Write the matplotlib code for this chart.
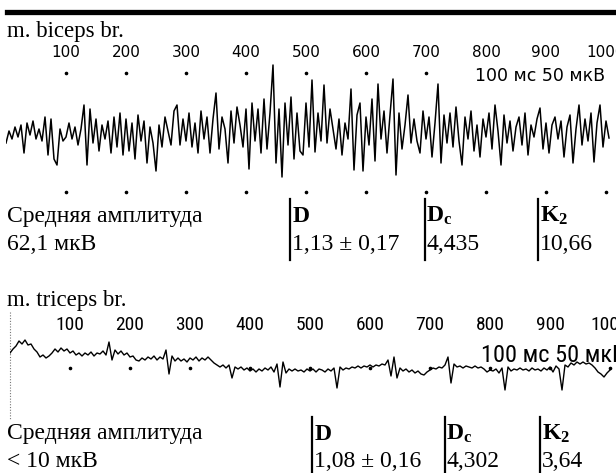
import numpy as np
import matplotlib
matplotlib.use('Agg')
import matplotlib.pyplot as plt
from matplotlib.lines import Line2D
from matplotlib import font_manager as fm

# ---------------- data ----------------
step = 5  # time units (ms-like) between samples
biceps = [-10, 2, -6, 6, -4, 8, -20, 10, -2, 12, -6, 4, -8, 16, -22, 14, -26, -32, 4, -8,
          -4, 10, -6, 6, -12, 4, 28, -32, 24, -10, 14, -18, 8, -6, 12, -20, 16, -14, 20, -22,
          14, -18, 10, -26, 18, -8, 12, -30, 6, -10, -38, 8, -14, 16, 2, -12, 22, 28, -12, 14,
          -8, 20, -14, 10, -20, 22, -6, 16, -20, 14, 40, -16, 16, 4, -30, 22, -10, 26, 8, -14,
          24, -36, 30, -8, 24, -20, 34, -16, 20, 68, -30, 24, -44, 30, -12, 36, -26, 20, -18, -22,
          30, -14, 53, -19, 20, -8, 48, -10, 24, 4, -16, 14, -22, 10, -6, 44, -37, 18, 30, -38,
          16, -12, 34, -28, 49, -6, 22, -20, 18, 54, -42, 20, -16, 8, 38, -10, 14, -8, -20, 22,
          -6, 16, -24, 10, 49, -30, 18, -10, 20, -14, 26, -8, -32, 16, -6, 22, -18, 8, -24, 14,
          -4, 20, -16, 28, 2, -32, 18, -10, 12, -18, 6, 16, -12, 20, -22, 8, -4, 14, 25, -16,
          10, -20, 8, 16, -6, 12, -24, 6, 18, -30, 4, 28, -12, 14, -8, 20, -29, 10, 28, -14,
          12, -5]
triceps = [17, 21, 24, 29, 26, 30, 25, 26, 21, 18, 13, 15, 12, 14, 17, 21, 18, 22, 19, 21,
           17, 19, 15, 17, 14, 17, 15, 18, 14, 17, 16, 19, 15, 28, 10, 20, 16, 19, 15, 17,
           13, 14, 10, 9, 12, 10, 13, 11, 14, 10, 13, 11, 20, -4, 14, 9, 12, 9, 11, 8,
           12, 10, 13, 9, 12, 10, 13, 10, 7, 5, 3, 5, 2, 5, -8, 3, 1, 3, 0, 2,
           -1, 1, -2, 1, -1, 2, 0, 3, -2, 6, -17, 8, -3, 1, -1, 1, -1, 0, -2, 1,
           -1, 1, -2, 1, 0, -2, 1, -1, 2, -18, 3, 0, 2, 1, 3, 2, 4, 2, 4, 3,
           5, 3, 5, 4, 6, 5, 10, -6, 13, -8, 2, -1, 1, -2, 0, -3, -1, -4, -5, -2,
           0, 2, 1, 3, 2, 5, 13, -13, 6, 3, 4, 2, 4, 3, 2, 4, 2, 3, 1, -2,
           0, -1, 1, -3, 2, -20, 3, -1, 1, 0, 2, 0, 1, -1, 2, 0, 1, -1, 2, 0,
           3, -2, 4, 1, -20, 5, 3, 7, 5, 8, 6, 8, 6, 7, 5, 2, -2, -4, -7, -3, 0]
tick_values = [100, 200, 300, 400, 500, 600, 700, 800, 900, 1000]
top_dot_values = [100, 200, 300, 400, 500, 600, 700]
scale_label = "100 мс 50 мкВ"

muscles = ["m. biceps br.", "m. triceps br."]
amp_label = "Средняя амплитуда"
amp_values = ["62,1 мкВ", "< 10 мкВ"]
D_values = ["1,13 ± 0,17", "1,08 ± 0,16"]
Dc_values = ["4,435", "4,302"]
K2_values = ["10,66", "3,64"]

# ---------------- figure ----------------
W, H = 616, 473
fig = plt.figure(figsize=(W / 100, H / 100), dpi=100)
fig.patch.set_facecolor('white')
plt.rcParams['mathtext.fontset'] = 'custom'
plt.rcParams['mathtext.rm'] = 'Liberation Serif'
plt.rcParams['mathtext.bf'] = 'Liberation Serif:bold'

names = {f.name for f in fm.fontManager.ttflist}
NARROW = 'Liberation Sans'
for cand in ['Liberation Sans Narrow', 'Roboto Condensed', 'Open Sans Condensed',
             'DejaVu Sans Condensed']:
    if cand in names:
        NARROW = cand
        break
SERIF = 'Liberation Serif'


def fx(x):
    return x / W


def fy(y):
    return 1 - y / H


# top heavy rule
fig.add_artist(Line2D([fx(7), 1.0], [fy(12.5), fy(12.5)], lw=3.8, color='black'))

# ---------- biceps panel ----------
fig.text(fx(7), fy(37), muscles[0], family=SERIF, fontsize=16.5, va='baseline')
ax1 = fig.add_axes([fx(6), fy(200), 606 / W, 160 / H])
ax1.set_xlim(0, 1010)
ax1.set_ylim(-67, 93)
ax1.axis('off')
t1 = np.arange(len(biceps)) * step
ax1.plot(t1, biceps, color='black', lw=1.1, zorder=3)
for v in tick_values:
    ax1.text(v, 81, str(v), ha='center', va='center', fontsize=11,
             family='DejaVu Sans', clip_on=False)
ax1.plot(top_dot_values, [60] * len(top_dot_values), 'o', color='black', ms=1.6, zorder=2)
ax1.plot(tick_values, [-59] * len(tick_values), 'o', color='black', ms=1.6, zorder=2)
ax1.text(782, 57, scale_label, ha='left', va='center', fontsize=12.5,
         family='DejaVu Sans', clip_on=False, zorder=4)

# ---------- triceps panel ----------
fig.text(fx(7), fy(306), muscles[1], family=SERIF, fontsize=16.5, va='baseline')
ax2 = fig.add_axes([fx(10), fy(420), 606 / W, 110 / H])
ax2.set_xlim(0, 1010)
ax2.set_ylim(-50, 60)
ax2.axis('off')
t2 = np.arange(len(triceps)) * step
ax2.plot(t2, triceps, color='black', lw=1.0, zorder=3)
for v in tick_values:
    ax2.text(v, 45, str(v), ha='center', va='center', fontsize=14,
             family=NARROW, clip_on=False)
ax2.plot(tick_values, [2] * len(tick_values), 'o', color='black', ms=1.6, zorder=2)
ax2.plot([0, 0], [58, -50], ls=(0, (1, 1.5)), color='#777777', lw=0.8, clip_on=False)
ax2.text(785, 14, scale_label, ha='left', va='center', fontsize=17.5,
         family=NARROW, clip_on=False, zorder=4)


# ---------- statistic blocks ----------
def block(y1, y2, ytop, ybot, xs, i):
    fig.text(fx(7), fy(y1), amp_label, family=SERIF, fontsize=17, va='center')
    fig.text(fx(7), fy(y2), amp_values[i], family=SERIF, fontsize=17, va='center')
    heads = [r'$\mathbf{D}$', r'$\mathbf{D_c}$', r'$\mathbf{K_2}$']
    vals = [D_values[i], Dc_values[i], K2_values[i]]
    for x, hd, vl in zip(xs, heads, vals):
        fig.add_artist(Line2D([fx(x), fx(x)], [fy(ytop), fy(ybot)], lw=1.6, color='black'))
        fig.text(fx(x + 1.5), fy(y1 - 1), hd, fontsize=17, va='center')
        fig.text(fx(x + 1.5), fy(y2), vl, family=SERIF, fontsize=17, va='center')


block(216, 244, 199, 260, [290, 425, 538], 0)
block(434, 461, 417, 472, [312, 445, 540], 1)

fig.savefig('out.png', dpi=100, facecolor='white')
